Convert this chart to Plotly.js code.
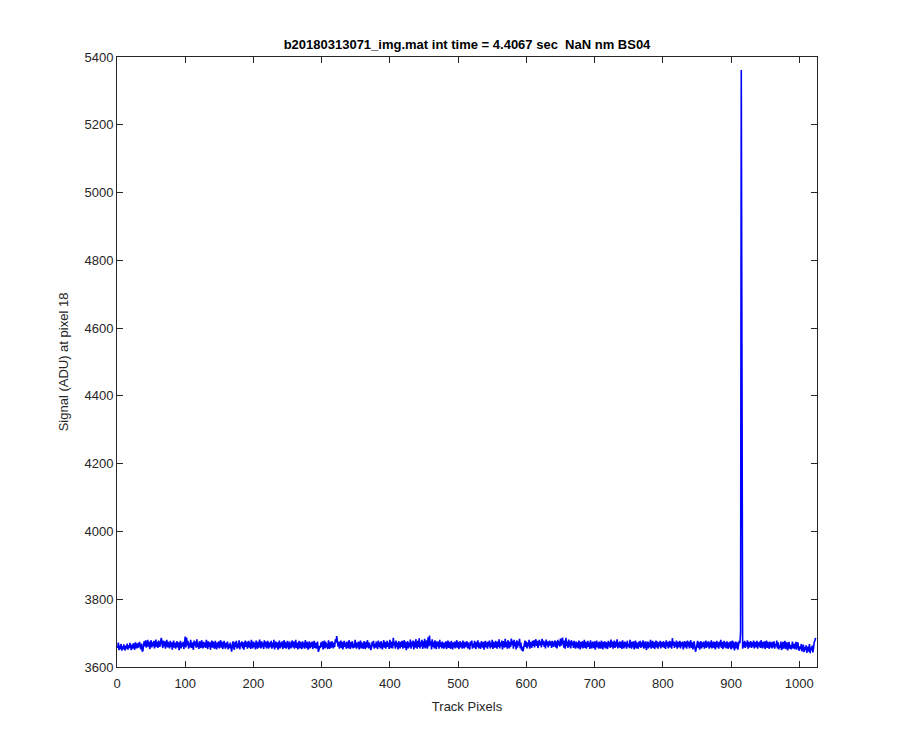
<!DOCTYPE html>
<html>
<head>
<meta charset="utf-8">
<script src="https://cdn.plot.ly/plotly-3.0.1.min.js"></script>
<style>html,body{margin:0;padding:0;background:#fff;}#chart{width:900px;height:750px;}</style>
</head>
<body>
<div id="chart"></div>
<script>
var chartTitle = 'b20180313071_img.mat int time = 4.4067 sec  NaN nm BS04';
var xLabel = 'Track Pixels';
var yLabel = 'Signal (ADU) at pixel 18';
var xTickVals = [0,100,200,300,400,500,600,700,800,900,1000];
var yTickVals = [3600,3800,4000,4200,4400,4600,4800,5000,5200,5400];
var signal = [
3656,3672,3650,3664,3653,3668,3648,3661,3652,3667,3655,3649,3663,3654,3669,3651,3664,3656,3671,3658,3650,3666,3654,3670,3659,3651,3673,3661,3655,3670,3657,3668,
3674,3659,3652,3669,3646,3648,3666,3676,3661,3679,3657,3672,3680,3660,3675,3653,3670,3679,3658,3673,3662,3677,3655,3671,3681,3659,3674,3656,3678,3665,3660,3676,
3686,3670,3656,3678,3661,3676,3654,3671,3680,3658,3674,3663,3655,3677,3659,3673,3651,3668,3678,3657,3672,3654,3667,3676,3658,3673,3650,3666,3677,3655,3671,3660,
3674,3653,3679,3690,3658,3687,3664,3677,3654,3671,3659,3680,3656,3673,3661,3651,3678,3663,3675,3657,3682,3659,3672,3653,3676,3661,3656,3679,3664,3655,3674,3659,
3672,3656,3680,3663,3653,3676,3659,3673,3651,3668,3678,3657,3675,3661,3654,3677,3663,3652,3672,3658,3676,3655,3669,3679,3657,3674,3653,3666,3677,3661,3654,3672,
3658,3675,3652,3667,3656,3672,3647,3645,3662,3676,3657,3651,3674,3659,3677,3654,3670,3657,3679,3652,3672,3661,3676,3655,3673,3651,3666,3678,3659,3675,3654,3669,
3677,3657,3673,3653,3680,3663,3655,3675,3659,3672,3652,3678,3661,3654,3674,3657,3681,3665,3655,3676,3659,3672,3653,3679,3660,3675,3655,3668,3677,3654,3673,3658,
3669,3677,3654,3672,3658,3680,3652,3666,3675,3657,3673,3651,3662,3678,3655,3672,3659,3676,3653,3668,3679,3656,3674,3654,3665,3677,3659,3652,3675,3661,3655,3672,
3678,3658,3675,3654,3668,3680,3656,3672,3652,3665,3677,3655,3674,3661,3653,3676,3658,3672,3654,3679,3664,3656,3674,3651,3662,3676,3655,3672,3659,3675,3653,3668,
3677,3656,3672,3654,3666,3675,3645,3650,3662,3656,3673,3659,3676,3652,3666,3678,3655,3674,3658,3669,3653,3679,3661,3654,3674,3657,3676,3664,3655,3672,3659,3682,
3672,3691,3678,3660,3675,3654,3667,3678,3656,3674,3652,3665,3677,3659,3672,3654,3675,3661,3655,3679,3664,3653,3674,3658,3676,3655,3668,3657,3680,3661,3654,3672,
3658,3675,3652,3668,3678,3655,3672,3661,3654,3676,3664,3653,3674,3657,3679,3667,3655,3672,3659,3650,3657,3674,3661,3677,3654,3668,3657,3675,3663,3653,3678,3659,
3673,3655,3676,3661,3652,3668,3679,3657,3674,3654,3665,3677,3659,3672,3653,3680,3667,3656,3675,3655,3686,3663,3674,3654,3678,3659,3672,3652,3676,3661,3655,3674,
3659,3677,3654,3667,3679,3656,3674,3650,3664,3676,3655,3672,3659,3681,3654,3674,3661,3678,3652,3675,3657,3682,3664,3654,3677,3659,3685,3655,3674,3661,3680,3653,
3676,3658,3683,3655,3672,3678,3654,3688,3661,3693,3664,3676,3652,3682,3659,3674,3655,3679,3663,3653,3676,3660,3674,3654,3680,3659,3673,3655,3675,3661,3654,3672,
3658,3676,3653,3667,3678,3656,3674,3660,3654,3677,3664,3652,3673,3658,3675,3655,3668,3679,3657,3674,3653,3664,3676,3658,3672,3654,3678,3661,3655,3674,3659,3668,
3676,3655,3672,3658,3652,3675,3663,3678,3654,3669,3657,3677,3661,3653,3674,3659,3679,3655,3672,3661,3654,3676,3664,3657,3674,3651,3668,3677,3658,3673,3654,3675,
3661,3678,3655,3672,3659,3680,3653,3674,3664,3657,3677,3667,3654,3675,3659,3682,3655,3673,3661,3678,3652,3676,3663,3657,3683,3659,3674,3654,3679,3663,3655,3675,
3659,3684,3665,3677,3654,3680,3661,3674,3652,3679,3657,3675,3663,3683,3655,3672,3649,3660,3646,3656,3668,3678,3659,3675,3655,3672,3661,3680,3654,3674,3663,3657,
3677,3662,3679,3658,3675,3682,3662,3677,3656,3674,3680,3664,3676,3658,3683,3665,3678,3660,3675,3655,3681,3664,3676,3658,3674,3678,3663,3675,3656,3677,3665,3660,
3674,3678,3658,3675,3655,3680,3664,3676,3660,3684,3663,3682,3687,3668,3657,3678,3654,3686,3662,3675,3656,3681,3660,3676,3655,3679,3664,3674,3656,3677,3663,3654,
3675,3658,3673,3655,3678,3663,3652,3674,3658,3676,3655,3668,3680,3656,3674,3654,3663,3677,3659,3673,3653,3679,3661,3655,3675,3663,3656,3676,3651,3668,3678,3658,
3673,3654,3675,3660,3655,3678,3664,3652,3674,3658,3676,3655,3673,3663,3653,3677,3660,3674,3656,3681,3659,3675,3654,3668,3678,3656,3674,3660,3682,3655,3673,3658,
3676,3656,3674,3653,3679,3663,3655,3675,3659,3673,3654,3677,3660,3668,3656,3680,3663,3654,3674,3658,3676,3652,3668,3678,3655,3673,3661,3654,3675,3659,3677,3656,
3673,3660,3679,3654,3674,3656,3676,3650,3663,3675,3655,3673,3659,3680,3654,3668,3677,3656,3674,3653,3663,3678,3658,3675,3654,3673,3661,3677,3655,3674,3659,3668,
3676,3656,3673,3653,3679,3661,3674,3655,3668,3677,3658,3675,3654,3685,3663,3676,3656,3673,3660,3678,3654,3674,3658,3668,3677,3655,3673,3661,3675,3652,3664,3676,
3658,3674,3654,3678,3661,3675,3655,3668,3679,3656,3673,3652,3664,3676,3658,3645,3655,3668,3677,3656,3674,3651,3662,3676,3655,3673,3659,3675,3654,3668,3678,3656,
3674,3660,3676,3654,3673,3658,3679,3655,3668,3675,3656,3674,3652,3664,3677,3658,3673,3654,3675,3661,3680,3656,3674,3653,3668,3677,3658,3673,3655,3676,3661,3654,
3673,3658,3676,3652,3668,3678,3655,3674,3649,3662,3675,3655,3673,3651,3664,3677,3670,3702,5362,3676,3654,3674,3658,3677,3656,3673,3661,3679,3654,3674,3658,3668,
3676,3656,3673,3660,3678,3655,3674,3658,3668,3677,3654,3673,3661,3675,3656,3679,3664,3655,3674,3658,3676,3653,3668,3678,3656,3674,3661,3654,3675,3658,3673,3655,
3674,3658,3676,3654,3668,3661,3678,3655,3673,3652,3664,3657,3675,3650,3659,3674,3654,3668,3677,3653,3662,3673,3649,3658,3674,3654,3665,3652,3659,3675,3655,3668,
3653,3662,3674,3651,3658,3673,3654,3648,3661,3652,3668,3646,3657,3666,3644,3659,3650,3664,3642,3656,3661,3645,3668,3641,3658,3649,3663,3643,3670,3674,3678,3686
];
var pixels = signal.map(function(_, i){ return i + 1; });

var axisColor = '#262626';
var fontFam = '"Liberation Sans", Arial, Helvetica, sans-serif';

var trace = {
  x: pixels, y: signal, type: 'scatter', mode: 'lines',
  line: {color: '#0000ff', width: 1.6}, hoverinfo: 'x+y'
};

var layout = {
  width: 900, height: 750,
  paper_bgcolor: '#ffffff', plot_bgcolor: '#ffffff',
  margin: {l: 117, r: 83, t: 57, b: 83},
  showlegend: false,
  font: {family: fontFam, size: 13, color: axisColor},
  title: {
    text: chartTitle,
    font: {family: fontFam, size: 13, color: '#000000', weight: 'bold'},
    x: 0.5, xref: 'paper', xanchor: 'center',
    y: 1, yref: 'paper', yanchor: 'bottom', pad: {b: 8}
  },
  xaxis: {
    range: [0, 1026], tickvals: xTickVals, ticktext: xTickVals.map(String),
    ticks: 'inside', ticklen: 6, tickwidth: 1, tickcolor: axisColor,
    showline: true, linecolor: axisColor, linewidth: 1, mirror: 'ticks',
    showgrid: false, zeroline: false, ticklabelstandoff: 4,
    tickfont: {family: fontFam, size: 13, color: axisColor},
    title: {text: xLabel, font: {family: fontFam, size: 13, color: axisColor}, standoff: 12}
  },
  yaxis: {
    range: [3600, 5400], tickvals: yTickVals, ticktext: yTickVals.map(String),
    ticks: 'inside', ticklen: 6, tickwidth: 1, tickcolor: axisColor,
    showline: true, linecolor: axisColor, linewidth: 1, mirror: 'ticks',
    showgrid: false, zeroline: false,
    tickfont: {family: fontFam, size: 13, color: axisColor},
    title: {text: yLabel, font: {family: fontFam, size: 13, color: axisColor}, standoff: 12}
  }
};

Plotly.newPlot('chart', [trace], layout, {displayModeBar: false, staticPlot: true});
</script>
</body>
</html>
